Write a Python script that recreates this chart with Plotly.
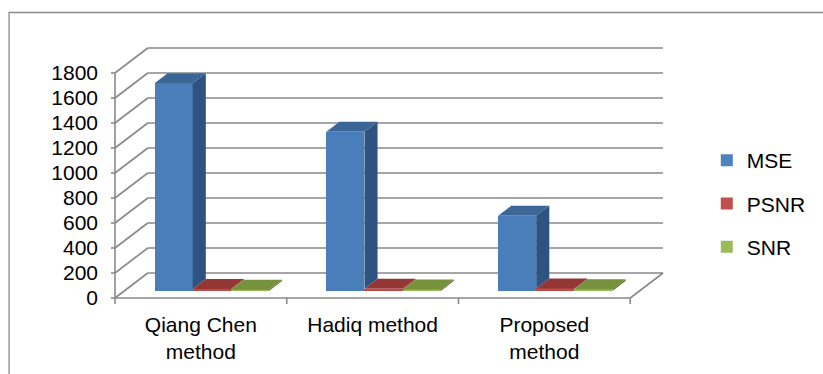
import plotly.graph_objects as go

# ---- data -------------------------------------------------------------
categories = ["Qiang Chen<br>method", "Hadiq method", "Proposed<br>method"]
series_names = ["MSE", "PSNR", "SNR"]
mse = [1662, 1275, 602]
psnr = [15.9, 17.1, 20.3]
snr = [10.2, 11.5, 14.6]
y_ticks = [0, 200, 400, 600, 800, 1000, 1200, 1400, 1600, 1800]

values = [mse, psnr, snr]

# ---- colours (front, top, side) ------------------------------------------
front_colors = ["#4A7EBB", "#BE4B48", "#98B954"]
top_colors = ["#3C6696", "#943634", "#76923C"]
side_colors = ["#2F5380", "#772C2A", "#5F7530"]
legend_colors = ["#4F81BD", "#C0504D", "#9BBB59"]
grid_color = "#898989"

# ---- pseudo-3D geometry (x in category units, y in value units) --------
DU, DV = 0.1911, 200.0          # depth of floor / walls
F0, F1 = 0.28, 0.68             # front and back planes of the columns
W = 0.222                       # column width
GAP = 0.177                     # space before first column of a group
N = len(categories)

# plot area in pixels and matching axis ranges (same scale on both sides)
L_PX, R_PX, T_PX, B_PX = 111, 672, 45, 305
WIDTH, HEIGHT = 823, 374
PX_PER_U = 172.67
PX_PER_V = 0.125
x_range = [-(115 - L_PX) / PX_PER_U, (R_PX - 115) / PX_PER_U]
y_range = [-(B_PX - 298) / PX_PER_V, (298 - T_PX) / PX_PER_V]

fig = go.Figure()

# front faces as real bars
for s, name in enumerate(series_names):
    xs = [i + GAP + F0 * DU + (s + 0.5) * W for i in range(N)]
    fig.add_trace(go.Bar(
        x=xs, y=values[s], base=[F0 * DV] * N, width=[W] * N,
        name=name, marker=dict(color=front_colors[s], line=dict(width=0)),
        legendgroup=name, showlegend=False, hoverinfo="skip",
    ))

# side and top faces
for i in range(N):
    for s in range(len(series_names)):
        v = values[s][i]
        xl = i + GAP + s * W
        xr = xl + W
        lo = 0.0
        if s + 1 < len(series_names):
            lo = min(v, values[s + 1][i])
        side_x = [xr + F0 * DU, xr + F0 * DU, xr + F1 * DU, xr + F1 * DU, xr + F0 * DU]
        side_y = [F0 * DV + lo, F0 * DV + v, F1 * DV + v, F1 * DV + lo, F0 * DV + lo]
        fig.add_trace(go.Scatter(
            x=side_x, y=side_y, mode="lines", fill="toself",
            fillcolor=side_colors[s], line=dict(width=0),
            showlegend=False, hoverinfo="skip",
        ))
        top_x = [xl + F0 * DU, xr + F0 * DU, xr + F1 * DU, xl + F1 * DU, xl + F0 * DU]
        top_y = [F0 * DV + v, F0 * DV + v, F1 * DV + v, F1 * DV + v, F0 * DV + v]
        fig.add_trace(go.Scatter(
            x=top_x, y=top_y, mode="lines", fill="toself",
            fillcolor=top_colors[s], line=dict(width=0),
            showlegend=False, hoverinfo="skip",
        ))

# legend entries (square swatches)
for s, name in enumerate(series_names):
    fig.add_trace(go.Bar(
        x=[None], y=[None], name=name,
        marker=dict(color=legend_colors[s], line=dict(width=0)),
        legendgroup=name, showlegend=True, hoverinfo="skip",
    ))

# ---- walls, floor and ticks ---------------------------------------------
line = dict(color=grid_color, width=1.6)
shapes = []
for v in y_ticks:
    # back wall gridline
    shapes.append(dict(type="line", xref="x", yref="y", layer="below",
                       x0=DU, y0=DV + v, x1=N + DU, y1=DV + v, line=line))
    # side wall gridline
    shapes.append(dict(type="line", xref="x", yref="y", layer="below",
                       x0=0, y0=v, x1=DU, y1=DV + v, line=line))
    # value tick mark
    shapes.append(dict(type="line", xref="x", yref="y", layer="below",
                       x0=-4 / PX_PER_U, y0=v, x1=0, y1=v, line=line))
# front value axis
shapes.append(dict(type="line", xref="x", yref="y", layer="below",
                   x0=0, y0=0, x1=0, y1=y_ticks[-1], line=line))
# floor front and right edges
shapes.append(dict(type="line", xref="x", yref="y", layer="below",
                   x0=0, y0=0, x1=N, y1=0, line=line))
shapes.append(dict(type="line", xref="x", yref="y", layer="below",
                   x0=N, y0=0, x1=N + DU, y1=DV, line=line))
# category tick marks
for k in range(N + 1):
    shapes.append(dict(type="line", xref="x", yref="y", layer="below",
                       x0=k, y0=0, x1=k, y1=-6 / PX_PER_V, line=line))

# chart border
pw, ph = R_PX - L_PX, B_PX - T_PX
shapes.append(dict(type="rect", xref="paper", yref="paper", layer="below",
                   x0=(8.5 - L_PX) / pw, x1=(WIDTH + 10 - L_PX) / pw,
                   y0=(B_PX - (HEIGHT + 10)) / ph, y1=(B_PX - 12.5) / ph,
                   line=dict(color="#8C8C8C", width=1.3)))

font = dict(family="Liberation Sans, Arial, sans-serif", size=21, color="#000000")

fig.update_layout(
    width=WIDTH, height=HEIGHT, autosize=False,
    margin=dict(l=L_PX, r=WIDTH - R_PX, t=T_PX, b=HEIGHT - B_PX, pad=0),
    paper_bgcolor="white", plot_bgcolor="rgba(0,0,0,0)",
    barmode="overlay", bargap=0,
    font=font,
    shapes=shapes,
    showlegend=True,
    legend=dict(x=(710 - L_PX) / pw, xanchor="left",
                y=(B_PX - 140) / ph, yanchor="top",
                font=font, tracegroupgap=13, bgcolor="rgba(0,0,0,0)"),
    xaxis=dict(range=x_range, showgrid=False, zeroline=False, showline=False,
               tickvals=[i + 0.5 for i in range(N)], ticktext=categories,
               ticks="", tickfont=font, ticklabelstandoff=5, fixedrange=True),
    yaxis=dict(range=y_range, showgrid=False, zeroline=False, showline=False,
               tickvals=y_ticks, ticktext=[str(v) for v in y_ticks],
               ticks="", tickfont=font, ticklabelstandoff=12, fixedrange=True),
)

fig.write_html("out.html")
